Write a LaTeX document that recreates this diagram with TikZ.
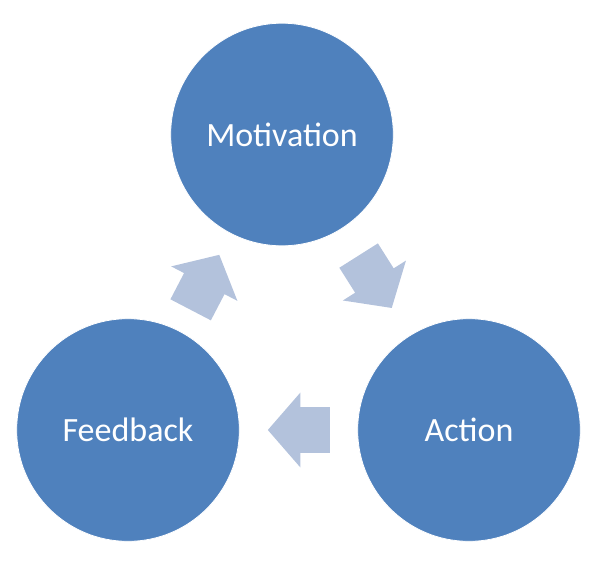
\documentclass[tikz,border=0pt]{standalone}
\usepackage{fontspec}
\setmainfont{Carlito}
\usetikzlibrary{calc,shapes.arrows}
\definecolor{stepblue}{HTML}{4F81BD}
\definecolor{arrowblue}{HTML}{B3C2DC}
\tikzset{
	stage/.style={circle, fill=stepblue, draw=white, line width=0.6pt,
		minimum size=167pt, inner sep=0pt, text=white,
		font=\fontsize{25.5}{30}\selectfont},
	blockarrow/.style={single arrow, fill=arrowblue, draw=none,
		minimum height=46.5pt, inner xsep=0pt, inner ysep=16.9pt,
		single arrow head extend=10.9pt, single arrow tip angle=98,
		single arrow head indent=0pt}
}
\begin{document}
\begin{tikzpicture}[x=0.75pt,y=0.75pt]
	\useasboundingbox (0,0) rectangle (602,562);
	% the three stages
	\node[stage] (mot) at (282,427.5) {Motivation};
	\node[stage] (act) at (469,132) {Action};
	\node[stage] (fb) at (128,132) {Feedback};
	% block arrows between them
	\node[blockarrow, rotate=-57.7] (ma) at ($(mot)!0.47!(act)$) {};
	\node[blockarrow, rotate=180] (af) at ($(act)!0.47!(fb)$) {};
	\node[blockarrow, rotate=62.5] (fm) at ($(fb)!0.47!(mot)$) {};
\end{tikzpicture}
\end{document}
